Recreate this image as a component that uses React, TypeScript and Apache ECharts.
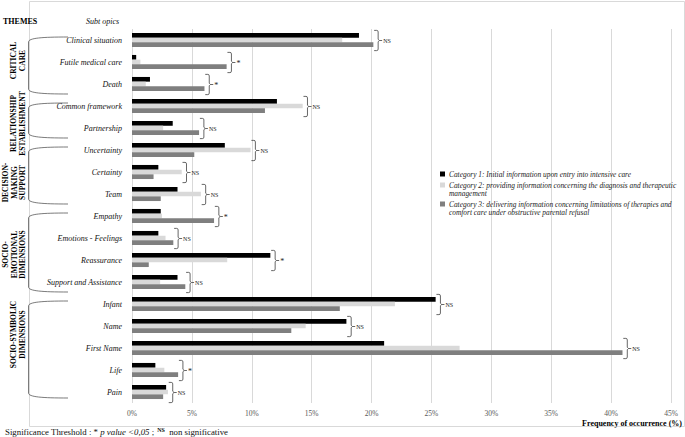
import React, { useEffect, useRef } from "react";
import * as echarts from "echarts";

const categories = [
  "Clinical situation",
  "Futile medical care",
  "Death",
  "Common framework",
  "Partnership",
  "Uncertainty",
  "Certainty",
  "Team",
  "Empathy",
  "Emotions - Feelings",
  "Reassurance",
  "Support and Assistance",
  "Infant",
  "Name",
  "First Name",
  "Life",
  "Pain",
];

const seriesNames = [
  "Category 1: Initial information upon entry into intensive care",
  "Category 2: providing information concerning the diagnosis and therapeutic\nmanagement",
  "Category 3: delivering information concerning limitations of therapies and\ncomfort care under obstructive parental refusal",
];

const cat1 = [18.95, 0.35, 1.5, 12.1, 3.4, 7.75, 2.2, 3.8, 2.4, 2.2, 11.55, 3.8, 25.35, 17.9, 21.05, 1.95, 2.85];
const cat2 = [17.55, 0.7, 1.15, 14.25, 2.6, 9.9, 4.15, 5.75, 2.5, 2.8, 7.95, 2.35, 21.95, 14.5, 27.35, 2.7, 3.0];
const cat3 = [20.15, 7.9, 6.05, 11.1, 5.6, 5.2, 1.8, 2.4, 6.85, 3.45, 1.4, 4.45, 17.35, 13.3, 40.95, 3.85, 2.6];

const significance = ["NS", "*", "*", "NS", "NS", "NS", "NS", "NS", "*", "NS", "*", "NS", "NS", "NS", "NS", "*", "NS"];

const themes = [
  "CRITICAL\nCARE",
  "RELATIONSHIP\nESTABLISHMENT",
  "DECISION-\nMAKING\nSUPPORT",
  "SOCIO-\nEMOTIONAL\nDIMENSIONS",
  "SOCIO-SYMBOLIC\nDIMENSIONS",
];
const themeRanges = [
  [0, 2],
  [3, 4],
  [5, 7],
  [8, 11],
  [12, 16],
];

const xTicks = { min: 0, max: 45, interval: 5 };

const colors = ["#000000", "#d9d9d9", "#7f7f7f"];
const FONT = "'Liberation Serif', 'Times New Roman', serif";

export default function App() {
  const ref = useRef<HTMLDivElement>(null);

  useEffect(() => {
    document.body.style.margin = "0";
    if (!ref.current) return;
    const chart = echarts.init(ref.current, null, { renderer: "svg" });
    const values = [cat1, cat2, cat3];
    const sigData = categories.map((_, i) => [Math.max(cat1[i], cat2[i], cat3[i]), i]);

    const option: any = {
      animation: false,
      backgroundColor: "#ffffff",
      textStyle: { fontFamily: FONT },
      grid: { left: 132, right: 14, top: 29, bottom: 34, containLabel: false },
      xAxis: {
        type: "value",
        min: xTicks.min,
        max: xTicks.max,
        interval: xTicks.interval,
        axisLine: { show: false },
        axisTick: { show: false },
        splitLine: { show: true, lineStyle: { color: "#d9d9d9", width: 1 } },
        axisLabel: {
          formatter: "{value}%",
          color: "#595959",
          fontSize: 7.5,
          fontFamily: FONT,
          margin: 6,
        },
      },
      yAxis: {
        type: "category",
        inverse: true,
        data: categories,
        axisLine: { show: false },
        axisTick: { show: false },
        splitLine: { show: false },
        axisLabel: {
          color: "#111",
          fontSize: 8,
          fontStyle: "italic",
          fontFamily: FONT,
          margin: 10,
        },
      },
      series: [
        ...values.map((v, k) => ({
          type: "bar",
          name: seriesNames[k],
          data: v,
          barGap: "0%",
          barCategoryGap: "36%",
          itemStyle: { color: colors[k] },
        })),
        {
          type: "custom",
          name: "significance",
          clip: false,
          data: sigData,
          encode: { x: 0, y: 1 },
          renderItem: (params: any, api: any) => {
            const p = api.coord([api.value(0), api.value(1)]);
            const h = api.size([0, 1])[1];
            const half = h * 0.46;
            const x = p[0] + 0.8;
            const y = p[1] + 0.5;
            const w = 4;
            const d =
              `M${x} ${y - half} L${x + w - 1.5} ${y - half} Q${x + w} ${y - half} ${x + w} ${y - half + 1.5} ` +
              `L${x + w} ${y - 1.2} L${x + w + 1.3} ${y} L${x + w} ${y + 1.2} L${x + w} ${y + half - 1.5} ` +
              `Q${x + w} ${y + half} ${x + w - 1.5} ${y + half} L${x} ${y + half}`;
            const label = significance[params.dataIndex];
            return {
              type: "group",
              children: [
                { type: "path", shape: { pathData: d }, style: { stroke: "#404040", fill: "none", lineWidth: 0.8 } },
                {
                  type: "line",
                  shape: { x1: x + w + 1.3, y1: y, x2: x + w + 4, y2: y },
                  style: { stroke: "#404040", lineWidth: 0.8 },
                },
                {
                  type: "text",
                  x: x + w + 5,
                  y: label === "*" ? y + 1 : y,
                  style: {
                    text: label,
                    fill: "#222",
                    fontSize: label === "*" ? 8 : 6,
                    fontFamily: FONT,
                    align: "left",
                    verticalAlign: "middle",
                  },
                },
              ],
            };
          },
        },
      ],
    };
    chart.setOption(option);

    const cy = (i: number) => chart.convertToPixel({ yAxisIndex: 0 }, categories[i]) as number;
    const themeCenterOffset = [-5, 3, 7, 2, -15];
    const graphics: any[] = [];
    graphics.push({
      type: "rect",
      shape: { x: 29.5, y: 1.5, width: 655, height: 425 },
      style: { stroke: "#d9d9d9", fill: "none", lineWidth: 1 },
      silent: true,
    });
    themeRanges.forEach(([a, b], t) => {
      const top = cy(a) - 3;
      const bottom = cy(b) + (t === themeRanges.length - 1 ? 6 : 10);
      const xl = 28.5;
      const xr = 68;
      graphics.push(
        {
          type: "bezierCurve",
          shape: { x1: xr, y1: top, cpx1: 42, cpy1: top, cpx2: xl, cpy2: top + 1, x2: xl, y2: top + 5 },
          style: { stroke: "#595959", fill: "none", lineWidth: 0.8 },
        },
        {
          type: "line",
          shape: { x1: xl, y1: top + 5, x2: xl, y2: bottom - 5 },
          style: { stroke: "#595959", lineWidth: 0.8 },
        },
        {
          type: "bezierCurve",
          shape: { x1: xl, y1: bottom - 5, cpx1: xl, cpy1: bottom - 1, cpx2: 42, cpy2: bottom, x2: xr, y2: bottom },
          style: { stroke: "#595959", fill: "none", lineWidth: 0.8 },
        }
      );
      const lines = themes[t].split("\n").length;
      graphics.push({
        type: "text",
        x: lines === 3 ? 14 : 18,
        y: (top + bottom) / 2 + themeCenterOffset[t],
        rotation: Math.PI / 2,
        style: {
          text: themes[t],
          fill: "#000",
          fontSize: 7.5,
          fontWeight: "bold",
          fontFamily: FONT,
          lineHeight: 8.5,
          align: "center",
          verticalAlign: "middle",
        },
      });
    });

    graphics.push(
      {
        type: "text",
        x: 3,
        y: 21,
        style: { text: "THEMES", fill: "#000", fontSize: 8, fontWeight: "bold", fontFamily: FONT, verticalAlign: "middle" },
      },
      {
        type: "text",
        x: 86,
        y: 21,
        style: { text: "Subt opics", fill: "#111", fontSize: 8, fontStyle: "italic", fontFamily: FONT, verticalAlign: "middle" },
      }
    );

    const legendTops = [171.5, 182.5, 201.5];
    seriesNames.forEach((name, k) => {
      graphics.push(
        {
          type: "rect",
          shape: { x: 440, y: legendTops[k], width: 5, height: 5 },
          style: { fill: colors[k] },
        },
        {
          type: "text",
          x: 449,
          y: legendTops[k] - 1.4,
          style: {
            text: name,
            fill: "#222",
            fontSize: 7.4,
            fontStyle: "italic",
            fontFamily: FONT,
            lineHeight: 8.3,
            verticalAlign: "top",
          },
        }
      );
    });

    graphics.push(
      {
        type: "text",
        right: 3,
        top: 419,
        style: {
          text: "Frequency of occurrence (%)",
          fill: "#000",
          fontSize: 8,
          fontWeight: "bold",
          fontFamily: FONT,
        },
      },
      {
        type: "text",
        x: 5,
        y: 432,
        style: {
          text: "{n|Significance Threshold : * }{i|p value <0,05}{n| ; }{s|NS}{n| non significative}",
          fontFamily: FONT,
          verticalAlign: "middle",
          rich: {
            n: { fontSize: 8.8, fill: "#111", fontFamily: FONT },
            i: { fontSize: 8.8, fill: "#111", fontStyle: "italic", fontFamily: FONT },
            s: { fontSize: 6, fill: "#111", fontWeight: "bold", fontFamily: FONT, verticalAlign: "top", padding: [0, 2, 4, 1] },
          },
        },
      }
    );

    chart.setOption({ graphic: graphics });

    return () => chart.dispose();
  }, []);

  return <div ref={ref} style={{ width: 685, height: 437 }} />;
}
